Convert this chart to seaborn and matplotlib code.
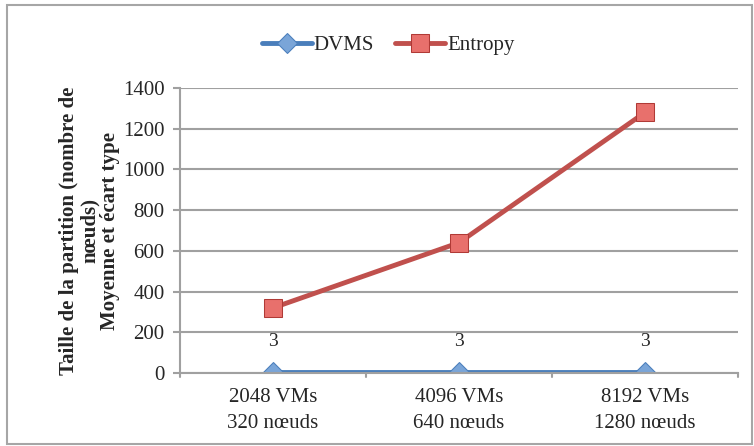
import pandas as pd
import matplotlib.pyplot as plt
import seaborn as sns
from matplotlib.patches import Rectangle

# Data
categories = ['2048 VMs\n320 nœuds', '4096 VMs\n640 nœuds', '8192 VMs\n1280 nœuds']
dvms = [3, 3, 3]
entropy = [320, 640, 1280]

df = pd.DataFrame({'Configuration': categories * 2,
                   'Taille': dvms + entropy,
                   'Methode': ['DVMS'] * 3 + ['Entropy'] * 3})

sns.set_style('white')
plt.rcParams['font.family'] = ['Liberation Serif', 'DejaVu Serif']

fig = plt.figure(figsize=(7.54, 4.46), dpi=100)
ax = fig.add_axes([180 / 754, 1 - 373 / 446, (738 - 180) / 754, (373 - 88) / 446])

# outer frame of the chart
fig.patches.append(Rectangle((7 / 754, 2 / 446), 745 / 754, 439 / 446, transform=fig.transFigure,
                             fill=False, edgecolor='#a6a6a6', linewidth=1.5))

styles = {
    'DVMS': dict(color='#4a7ebb', marker='D', markersize=10, markerfacecolor='#7aa5d8',
                 markeredgecolor='#4a7ebb'),
    'Entropy': dict(color='#c0504d', marker='s', markersize=13, markerfacecolor='#e8706c',
                    markeredgecolor='#b03a36'),
}
for name, style in styles.items():
    sub = df[df['Methode'] == name]
    sns.lineplot(data=sub, x='Configuration', y='Taille', ax=ax, sort=False, label=name,
                 linewidth=3.5, **style)

for i, v in enumerate(dvms):
    ax.text(i, v + 110, str(v), ha='center', va='bottom', fontsize=14)

ax.set_xlim(-0.5, 2.5)
ax.set_ylim(0, 1400)
ax.set_yticks(range(0, 1401, 200))
ax.yaxis.grid(True, color='#a0a0a0', linewidth=1.5)
ax.set_axisbelow(True)
for side in ['top', 'right']:
    ax.spines[side].set_visible(False)
ax.spines['left'].set_color('#a0a0a0')
ax.spines['bottom'].set_color('#a0a0a0')
ax.spines['left'].set_linewidth(1.5)
ax.spines['bottom'].set_linewidth(1.5)

ax.set_xticks([0, 1, 2])
ax.set_xticklabels(categories, fontsize=15, linespacing=1.45)
ax.tick_params(axis='x', length=0, pad=11)
for xb in [-0.5, 0.5, 1.5, 2.5]:
    ax.plot([xb, xb], [0, -0.015], transform=ax.get_xaxis_transform(), color='#a0a0a0',
            linewidth=1.5, clip_on=False)
ax.tick_params(axis='y', labelsize=15, length=5, color='#a0a0a0', width=1.5, left=True, pad=6)

ax.set_xlabel('')
ax.set_ylabel('Taille de la partition (nombre de\nnœuds)\nMoyenne et écart type',
              fontsize=15, fontweight='bold', linespacing=1.05, labelpad=2)

ax.legend(loc='center', bbox_to_anchor=(388 / 754, 1 - 45 / 446), bbox_transform=fig.transFigure,
          ncol=2, frameon=False, fontsize=15, handlelength=2.4, handletextpad=0.1,
          columnspacing=1.0)

plt.savefig('out.png', dpi=100)
